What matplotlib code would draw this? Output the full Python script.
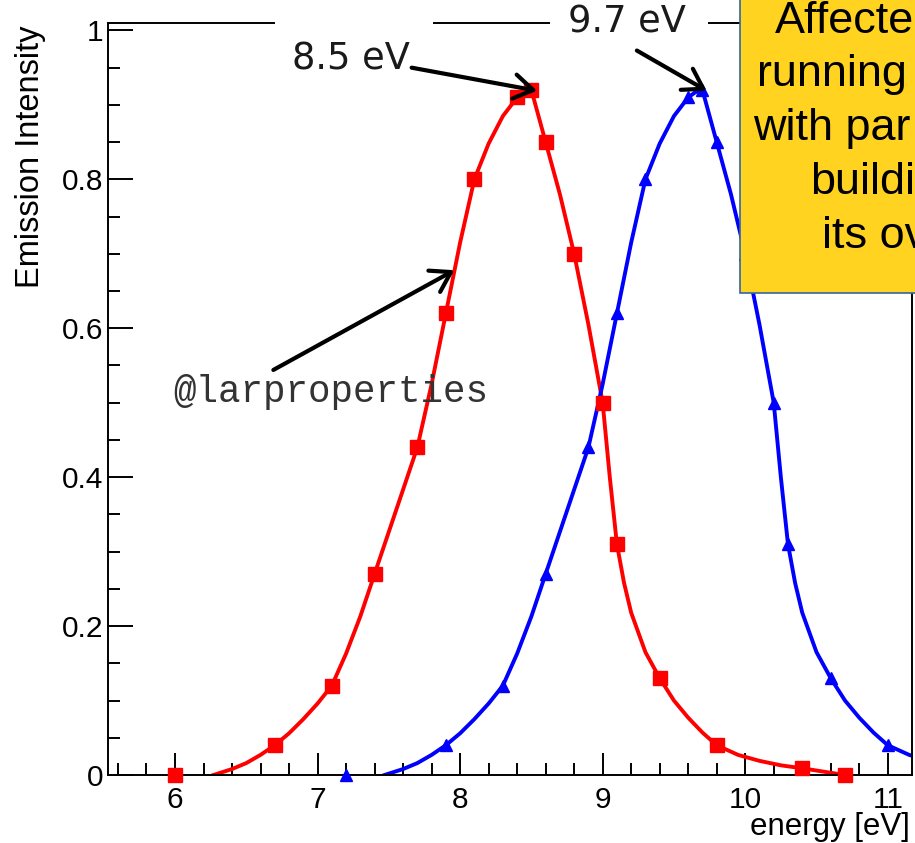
import matplotlib
matplotlib.use("Agg")
import matplotlib.pyplot as plt
from matplotlib.patches import Rectangle
from matplotlib.ticker import MultipleLocator, FuncFormatter

# Figure size in pixels (dpi 100)
W, H = 915, 843

# Marker points
red_x = [6.0, 6.7, 7.1, 7.4, 7.7, 7.9, 8.1, 8.4, 8.5, 8.6, 8.8, 9.0, 9.1, 9.4, 9.8, 10.4, 10.7]
red_y = [0.0, 0.04, 0.12, 0.27, 0.44, 0.62, 0.80, 0.91, 0.92, 0.85, 0.70, 0.50, 0.31, 0.13, 0.04, 0.01, 0.0]

blue_x = [7.2, 7.9, 8.3, 8.6, 8.9, 9.1, 9.3, 9.6, 9.7, 9.8, 10.0, 10.2, 10.3, 10.6, 11.0]
blue_y = [0.0, 0.04, 0.12, 0.27, 0.44, 0.62, 0.80, 0.91, 0.92, 0.85, 0.70, 0.50, 0.31, 0.13, 0.04]

# Smooth curves, sampled along the drawn lines
red_line_x = [6.27, 6.4, 6.5, 6.6, 6.7, 6.8, 6.9, 7.0, 7.1, 7.2, 7.3, 7.4, 7.55, 7.7, 7.8, 7.9,
              8.0, 8.1, 8.2, 8.3, 8.4, 8.45, 8.5, 8.6, 8.7, 8.8, 8.9, 9.0, 9.05, 9.1, 9.15,
              9.2, 9.3, 9.4, 9.5, 9.6, 9.7, 9.8, 9.95, 10.1, 10.25, 10.4, 10.7]
red_line_y = [0.0, 0.008, 0.016, 0.027, 0.04, 0.056, 0.075, 0.096, 0.12, 0.163, 0.213, 0.27, 0.355,
              0.44, 0.525, 0.62, 0.715, 0.80, 0.848, 0.885, 0.91, 0.917, 0.92, 0.85, 0.78, 0.70,
              0.605, 0.50, 0.40, 0.31, 0.258, 0.218, 0.165, 0.13, 0.1, 0.077, 0.057, 0.04,
              0.027, 0.019, 0.013, 0.009, 0.0]

blue_line_x = [7.47, 7.6, 7.7, 7.8, 7.9, 8.0, 8.1, 8.2, 8.3, 8.4, 8.5, 8.6, 8.75, 8.9, 9.0, 9.1,
               9.2, 9.3, 9.4, 9.5, 9.6, 9.65, 9.7, 9.8, 9.9, 10.0, 10.1, 10.2, 10.25, 10.3, 10.35,
               10.4, 10.5, 10.6, 10.7, 10.8, 10.9, 11.0, 11.15, 11.3]
blue_line_y = [0.0, 0.008, 0.016, 0.027, 0.04, 0.056, 0.075, 0.096, 0.12, 0.163, 0.213, 0.27, 0.355,
               0.44, 0.525, 0.62, 0.715, 0.80, 0.848, 0.885, 0.91, 0.917, 0.92, 0.85, 0.78, 0.70,
               0.605, 0.50, 0.40, 0.31, 0.258, 0.218, 0.165, 0.13, 0.1, 0.077, 0.057, 0.04,
               0.027, 0.019]

x_ticks = [6, 7, 8, 9, 10, 11]
y_ticks = [0, 0.2, 0.4, 0.6, 0.8, 1.0]

box_lines = ["Affecte", "running", "with par", "buildi", "its ov"]
box_left = [775, 757, 753, 810, 822]
box_base = [33, 86, 140, 194, 248]


def fx(px):
    return px / W


def fy(py):
    return 1 - py / H


fig = plt.figure(figsize=(W / 100, H / 100), dpi=100)
ax = fig.add_axes([fx(108), fy(775), (912 - 108) / W, (775 - 23) / H])

ax.plot(red_line_x, red_line_y, color="#ff0000", lw=2.8, zorder=2, solid_joinstyle="round")
ax.plot(blue_line_x, blue_line_y, color="#0000ff", lw=2.8, zorder=2, solid_joinstyle="round")
ax.plot(red_x, red_y, "s", color="#ff0000", ms=10.5, ls="none", zorder=3, clip_on=False)
ax.plot(blue_x, blue_y, "^", color="#0000ff", ms=9, ls="none", zorder=3, clip_on=False)

ax.set_xlim(5.53, 11.17)
ax.set_ylim(0, 1.01)

ax.set_xticks(x_ticks)
ax.set_yticks(y_ticks)
ax.xaxis.set_minor_locator(MultipleLocator(0.2))
ax.yaxis.set_minor_locator(MultipleLocator(0.05))
ax.yaxis.set_major_formatter(FuncFormatter(lambda v, p: f"{v:g}"))

for lab in ax.get_xticklabels() + ax.get_yticklabels():
    lab.set_fontfamily("Liberation Sans")
    lab.set_fontsize(21.5)

ax.tick_params(axis="both", which="both", direction="in", width=1.4, color="black",
               top=False, right=False)
ax.tick_params(axis="x", which="major", length=16, pad=8)
ax.tick_params(axis="x", which="minor", length=8.5)
ax.tick_params(axis="y", which="major", length=18, pad=3.5)
ax.tick_params(axis="y", which="minor", length=8.5)
for sp in ax.spines.values():
    sp.set_linewidth(1.4)

# axis titles (ROOT style: at the ends of the axes)
fig.text(fx(31), fy(25), "Emission Intensity", rotation=90, ha="center", va="top",
         family="Liberation Sans", fontsize=23.5)
fig.text(fx(910), fy(835), "energy [eV]", ha="right", va="baseline",
         family="Liberation Sans", fontsize=22.5)

# white patches breaking the top frame line
for x0, x1 in [(275, 433), (550, 708)]:
    fig.add_artist(Rectangle((fx(x0), fy(30)), (x1 - x0) / W, 14 / H,
                             transform=fig.transFigure, facecolor="white",
                             edgecolor="none", zorder=5))

fig.text(fx(627), fy(22), "9.7 eV", ha="center", va="center", family="DejaVu Sans",
         fontsize=26.5, color="#1a1a1a", zorder=6)
ax.text(7.65, 0.962, "8.5 eV", ha="right", va="center", family="DejaVu Sans",
        fontsize=26.5, color="#1a1a1a")
ax.text(7.09, 0.514, "@larproperties", ha="center", va="center", family="Liberation Mono",
        fontsize=27, color="#333333")

arrow = dict(arrowstyle="->,head_length=0.55,head_width=0.35", lw=3, color="black",
             mutation_scale=25, shrinkA=0, shrinkB=0)
ax.annotate("", xy=(8.54, 0.919), xytext=(7.66, 0.950), arrowprops=arrow, annotation_clip=False)
ax.annotate("", xy=(9.73, 0.919), xytext=(9.24, 0.973), arrowprops=arrow, annotation_clip=False)
ax.annotate("", xy=(7.96, 0.678), xytext=(6.69, 0.544), arrowprops=arrow, annotation_clip=False)

# yellow callout box from the slide
fig.add_artist(Rectangle((fx(740), fy(293)), 0.5, 0.5, transform=fig.transFigure,
                         facecolor="#ffd320", edgecolor="#3465a4", lw=1.2, zorder=7))
for txt, x0, yb in zip(box_lines, box_left, box_base):
    fig.text(fx(x0), fy(yb), txt, ha="left", va="baseline", family="Liberation Sans",
             fontsize=32.4, color="black", zorder=8)

fig.savefig("out.png", dpi=100)
